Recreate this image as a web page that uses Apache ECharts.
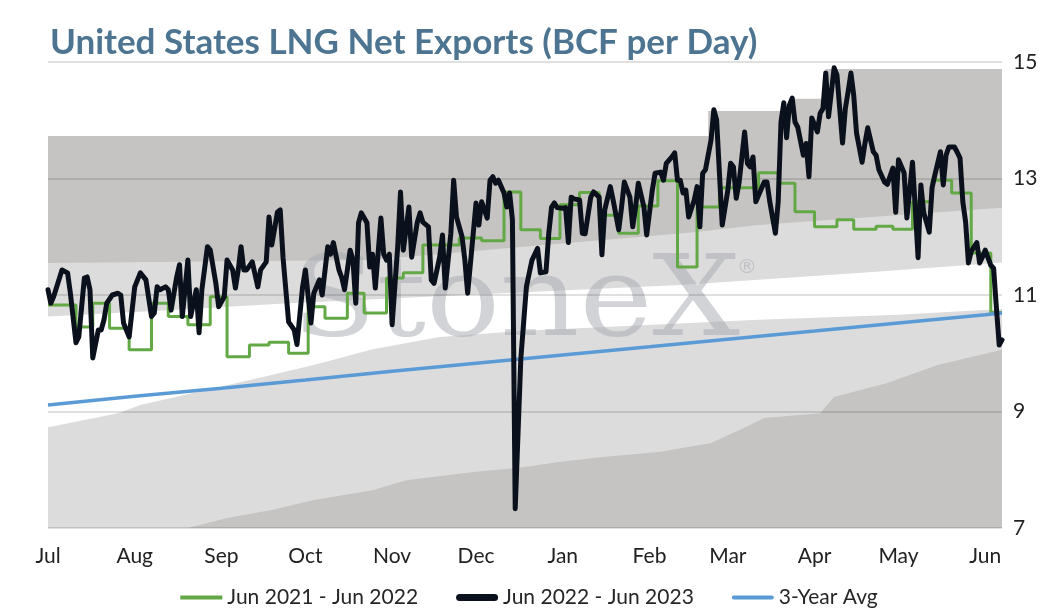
<!DOCTYPE html>
<html><head><meta charset="utf-8">
<script src="https://cdn.jsdelivr.net/npm/echarts@6/dist/echarts.min.js"></script>
<style>html,body{margin:0;padding:0;background:#fff}#c{width:1058px;height:613px}</style>
</head><body><div id="c"></div>
<script>
// ---- data (day index from 2022-07-01, value in BCF/d) ----
const monthNames = ['Jan','Feb','Mar','Apr','May','Jun','Jul','Aug','Sep','Oct','Nov','Dec'];
const seriesNames = ['Jun 2021 - Jun 2022', 'Jun 2022 - Jun 2023', '3-Year Avg'];
const yTicks = [7, 9, 11, 13, 15];

const black = [
[0,11.09],[1,10.86],[2,10.97],[5,11.43],[7,11.38],[8,11.03],[10,10.18],[11,10.28],[13,11.29],[14,11.31],[15,11.09],[16,9.92],[18,10.40],[19,10.40],[20,10.57],[21,10.86],[23,11.00],[25,11.03],[26,11.00],[27,10.52],[29,10.28],[31,11.14],[33,11.38],[35,11.26],[37,10.63],[38,10.69],[39,11.14],[40,11.09],[42,11.14],[43,11.09],[44,10.74],[46,11.31],[47,11.52],[48,10.63],[50,11.60],[51,10.63],[53,11.09],[54,10.35],[55,11.09],[57,11.83],[58,11.77],[60,11.20],[61,10.80],[63,10.97],[64,11.60],[66,11.43],[67,11.12],[68,11.43],[69,11.83],[70,11.43],[71,11.43],[73,11.57],[75,11.14],[76,11.43],[78,11.57],[79,12.34],[80,11.86],[82,12.42],[83,12.46],[84,11.65],[86,10.54],[88,10.40],[89,10.15],[91,11.14],[92,11.43],[94,10.52],[95,11.03],[97,11.26],[98,11.00],[100,11.83],[101,11.70],[102,11.90],[104,11.43],[105,11.30],[106,11.09],[108,11.77],[109,11.60],[110,10.86],[111,12.24],[112,12.41],[114,12.24],[115,11.48],[116,11.70],[117,11.12],[119,12.32],[120,11.70],[121,11.60],[122,11.70],[123,10.49],[125,11.83],[126,12.77],[127,11.77],[129,12.51],[130,11.65],[132,12.25],[133,12.41],[134,12.25],[136,12.17],[137,11.26],[138,11.20],[140,11.65],[141,12.03],[142,11.12],[144,12.06],[145,12.97],[146,12.34],[148,12.00],[149,11.60],[150,11.03],[152,12.06],[153,12.58],[154,12.20],[155,12.60],[157,12.32],[158,12.97],[159,13.03],[160,12.92],[161,12.97],[163,12.75],[164,12.51],[165,12.75],[166,12.29],[167,7.33],[169,9.90],[171,11.14],[173,11.60],[175,11.80],[176,11.38],[178,11.40],[179,12.06],[180,12.51],[181,12.58],[182,12.50],[184,12.49],[185,12.50],[186,11.90],[187,12.68],[188,12.65],[190,12.63],[191,12.06],[192,12.05],[194,12.68],[195,12.77],[197,12.68],[198,11.69],[199,12.46],[201,12.86],[202,12.63],[204,12.12],[205,12.50],[206,12.94],[208,12.68],[209,12.17],[210,12.50],[211,12.92],[213,12.51],[214,12.03],[216,12.80],[217,13.09],[219,13.11],[220,12.97],[221,13.26],[223,13.37],[224,13.44],[225,12.97],[226,12.97],[227,12.75],[228,12.80],[229,12.34],[231,12.63],[232,12.86],[233,12.17],[234,13.09],[235,13.15],[237,13.66],[238,14.18],[239,14.00],[240,13.09],[241,12.20],[243,12.80],[244,13.26],[245,13.20],[246,12.66],[247,12.92],[249,13.80],[250,13.26],[251,13.20],[252,13.37],[253,12.60],[256,12.94],[257,12.94],[258,12.60],[260,12.06],[261,12.60],[262,13.97],[263,14.30],[264,13.70],[265,14.26],[266,14.38],[267,13.97],[268,13.88],[270,13.40],[271,13.60],[272,13.03],[273,14.04],[275,13.80],[276,14.12],[277,14.20],[278,14.81],[279,14.06],[281,14.90],[282,14.78],[284,13.61],[285,14.20],[286,14.49],[287,14.81],[288,14.43],[289,13.78],[291,13.28],[292,13.60],[293,13.87],[295,13.46],[296,13.40],[297,13.15],[299,12.94],[300,12.90],[302,13.18],[303,12.42],[304,13.32],[306,13.10],[307,12.32],[309,13.28],[310,12.49],[311,11.64],[312,12.89],[313,12.42],[315,12.08],[316,12.84],[317,13.06],[319,13.46],[320,12.89],[321,13.40],[322,13.54],[324,13.54],[325,13.45],[326,13.35],[327,12.60],[328,12.25],[329,11.55],[330,11.75],[332,11.90],[333,11.55],[334,11.65],[335,11.77],[337,11.51],[338,11.46],[339,10.78],[340,10.14],[341,10.23]
];

const green = [[0,10.83],[10,10.45],[16,10.86],[22,10.43],[29,10.06],[37,10.86],[43,10.63],[50,10.49],[58,10.97],[64,9.94],[72,10.14],[79,10.19],[86,10.00],[93,10.80],[99,10.60],[107,11.03],[113,10.69],[121,11.29],[127,11.38],[134,11.86],[147,11.98],[155,11.93],[163,12.77],[169,12.12],[176,11.97],[183,12.55],[190,12.76],[197,12.37],[204,12.06],[211,12.53],[218,12.96],[225,11.48],[232,12.51],[240,12.84],[254,13.10],[261,12.92],[267,12.43],[274,12.17],[282,12.29],[288,12.13],[296,12.18],[302,12.13],[309,12.60],[316,12.97],[323,12.75],[330,11.72],[337,10.70],[341,10.70]];

const avg3 = [[0,9.11],[31,9.26],[62,9.40],[92,9.54],[123,9.69],[153,9.83],[184,9.97],[215,10.11],[243,10.24],[274,10.38],[304,10.52],[335,10.66],[341,10.69]];

// range band boundaries (bottom to top): A, B, C, D, E
const bandE = [[0,13.73],[236,14.16],[266,14.37],[278,14.88],[341,14.88]];
const bandD = [[0,11.55],[115,11.60],[168,11.82],[229,12.07],[254,12.20],[341,12.50]];
const bandC = [[0,10.63],[43,10.74],[86,10.86],[172,11.05],[226,11.17],[254,11.26],[296,11.40],[341,11.56]];
const bandB = [[0,8.73],[25,8.97],[33,9.11],[73,9.55],[95,9.80],[116,10.07],[140,10.28],[169,10.38],[252,10.57],[304,10.66],[341,10.76]];
const bandA = [[0,7.0],[50,7.0],[64,7.17],[80,7.31],[95,7.48],[116,7.65],[128,7.82],[152,7.96],[169,8.04],[182,8.13],[198,8.22],[219,8.31],[237,8.46],[247,8.68],[256,8.89],[276,8.97],[281,9.25],[300,9.49],[318,9.80],[341,10.06]];

// category axis: every day from 2022-07-01 to 2023-06-07
const dayLabels = [];
for (let i = 0; i < 342; i++) {
  const d = new Date(Date.UTC(2022, 6, 1 + i));
  dayLabels.push(d.toISOString().slice(0, 10));
}

const FONT = 'Lato, "Noto Sans", sans-serif';
const DARK = '#c5c4c2', LIGHT = '#dcdcdc';

function band(data, color, step) {
  return {type:'line', data, step: step || false, symbol:'none', silent:true, z:1,
    lineStyle:{width:0, opacity:0}, areaStyle:{color, opacity:1, origin:'start'}, animation:false};
}

const chart = echarts.init(document.getElementById('c'));
chart.setOption({
  animation:false,
  backgroundColor:'#fff',
  title:{text:'United States LNG Net Exports (BCF per Day)', left:45, top:20,
    textStyle:{fontFamily:FONT, fontSize:35, fontWeight:'bold', color:'#4d7591'}},
  grid:{left:48, right:56, top:62, bottom:85},
  legend:{left:'center', top:582, itemWidth:42, itemHeight:14, itemGap:38,
    data:[
      {name:seriesNames[0], icon:'path://M0,0h42v4h-42z'},
      {name:seriesNames[1], icon:'path://M3.5,0h35a3.5,3.5 0 0 1 0,7h-35a3.5,3.5 0 0 1 0,-7z'},
      {name:seriesNames[2], icon:'path://M2,0h38a2,2 0 0 1 0,4h-38a2,2 0 0 1 0,-4z'}
    ],
    textStyle:{fontFamily:FONT, fontSize:21, color:'#262626'}},
  xAxis:{type:'category', data:dayLabels, boundaryGap:false,
    axisLine:{show:false}, axisTick:{show:false}, splitLine:{show:false},
    axisLabel:{interval:(i, v) => v.slice(8) === '01',
      formatter:v => monthNames[+v.slice(5, 7) - 1],
      color:'#222', fontSize:21, fontFamily:FONT, margin:18}},
  yAxis:{type:'value', position:'right', min:yTicks[0], max:yTicks[yTicks.length-1], interval:2, z:3,
    axisLine:{show:false}, axisTick:{show:false},
    splitLine:{lineStyle:{color:'rgba(0,0,0,0.12)', width:2}},
    axisLabel:{color:'#222', fontSize:21, fontFamily:FONT, margin:11}},
  graphic:[
    {type:'text', x:516, y:306, z:2, scaleX:1.1, silent:true,
      style:{text:'StoneX', font:'112px "DejaVu Serif"', fill:'rgba(165,168,176,0.5)', align:'center', verticalAlign:'middle'}},
    {type:'text', x:747, y:268, z:2, silent:true,
      style:{text:'®', font:'20px "DejaVu Sans"', fill:'rgba(165,168,176,0.5)', align:'center', verticalAlign:'middle'}}
  ],
  series:[
    band(bandE, DARK, 'end'),
    band(bandD, LIGHT),
    band(bandC, '#ffffff'),
    band(bandB, LIGHT),
    band(bandA, DARK),
    {name:seriesNames[0], type:'line', data:green, step:'end', symbol:'none', z:5,
      lineStyle:{color:'#62a845', width:3}, itemStyle:{color:'#62a845'}},
    {name:seriesNames[2], type:'line', data:avg3, symbol:'none', z:6,
      lineStyle:{color:'#5b9bd5', width:3.5}, itemStyle:{color:'#5b9bd5'}},
    {name:seriesNames[1], type:'line', data:black, symbol:'none', z:7,
      lineStyle:{color:'#0b111c', width:5, join:'round', cap:'round'}, itemStyle:{color:'#0b111c'}}
  ]
});
</script>
</body></html>
